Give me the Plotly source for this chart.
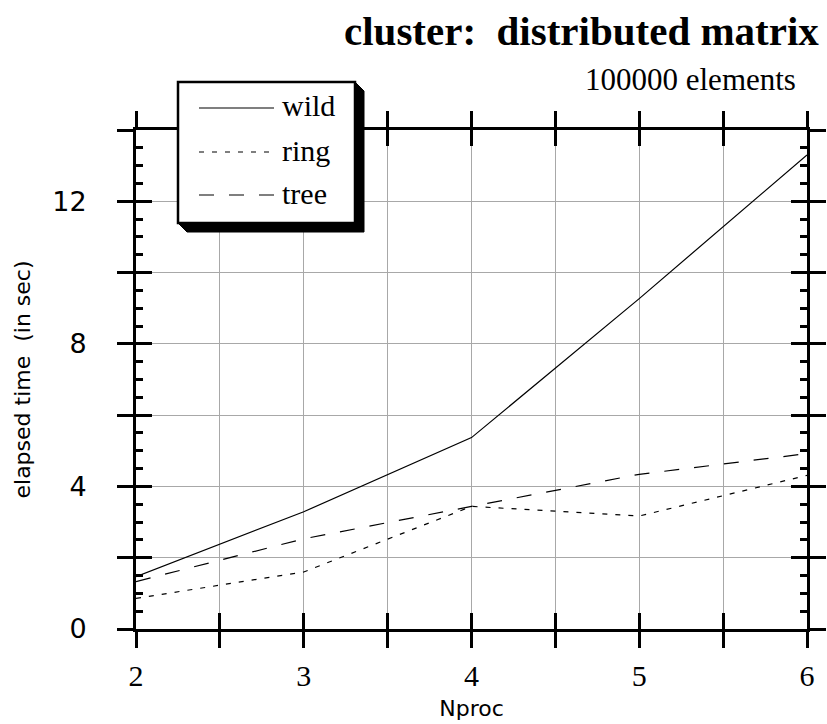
import plotly.graph_objects as go

# Elapsed time vs number of processes, three reduction strategies
nproc = [2, 3, 4, 5, 6]
wild = [1.47, 3.29, 5.37, 9.27, 13.3]
ring = [0.86, 1.60, 3.44, 3.17, 4.31]
tree = [1.33, 2.53, 3.44, 4.34, 4.92]

series_names = ["wild", "ring", "tree"]
series_values = [wild, ring, tree]
series_dash = ["solid", "5px,8px", "15px,15px"]

x_ticks = [2, 2.5, 3, 3.5, 4, 4.5, 5, 5.5, 6]
x_ticktext = ["2", "", "3", "", "4", "", "5", "", "6"]
y_major = [0, 2, 4, 6, 8, 10, 12, 14]
y_ticktext = ["0", "", "4", "", "8", "", "12", ""]
y_minor = [v / 2 for v in range(0, 29) if v % 4 != 0]

W, H = 827, 724
ML, MR, MT, MB = 136, 20, 130, 95
PW, PH = W - ML - MR, H - MT - MB


def px(xp):
    return (xp - ML) / PW


def py(yp):
    return (H - MB - yp) / PH


SERIF = "Liberation Serif"
SANS = "DejaVu Sans"

fig = go.Figure()
for name, vals, dash in zip(series_names, series_values, series_dash):
    fig.add_trace(go.Scatter(x=nproc, y=vals, name=name, mode="lines",
                             line=dict(color="black", width=1.2, dash=dash),
                             showlegend=False))
# carrier trace for the inward-pointing tick axes
fig.add_trace(go.Scatter(x=[None], y=[None], xaxis="x2", yaxis="y2",
                         showlegend=False, hoverinfo="skip"))

axis_common = dict(showline=True, linewidth=3, linecolor="black",
                   tickcolor="black", tickwidth=3, zeroline=False,
                   mirror="ticks", automargin=False)

fig.update_layout(
    width=W, height=H,
    font=dict(family=SERIF, color="black"),
    margin=dict(l=ML, r=MR, t=MT, b=MB, autoexpand=False),
    paper_bgcolor="white", plot_bgcolor="white",
    xaxis=dict(range=[2, 6], tickmode="array", tickvals=x_ticks,
               ticktext=x_ticktext, ticks="outside", ticklen=16,
               showgrid=True, gridcolor="#a8a8a8", gridwidth=1,
               tickfont=dict(family=SERIF, size=30, color="black"),
               ticklabelstandoff=2,
               title=dict(text="Nproc", standoff=10,
                          font=dict(family=SANS, size=22, color="black")),
               **axis_common),
    xaxis2=dict(range=[2, 6], overlaying="x", anchor="y", side="bottom",
                tickmode="array", tickvals=x_ticks, ticks="inside",
                ticklen=16, showgrid=False, showticklabels=False,
                **axis_common),
    yaxis=dict(range=[0, 14], tickmode="array", tickvals=y_major,
               ticktext=y_ticktext, ticks="outside", ticklen=16,
               showgrid=True, gridcolor="#a8a8a8", gridwidth=1,
               tickfont=dict(family=SANS, size=27, color="black"),
               ticklabelstandoff=25,
               minor=dict(tickmode="array", tickvals=y_minor, ticks="inside",
                          ticklen=7, tickwidth=3, tickcolor="black",
                          showgrid=False),
               title=dict(text="elapsed time  (in sec)", standoff=16,
                          font=dict(family=SANS, size=22, color="black")),
               **axis_common),
    yaxis2=dict(range=[0, 14], overlaying="y", anchor="x", side="left",
                tickmode="array", tickvals=y_major, ticks="inside",
                ticklen=16, showgrid=False, showticklabels=False,
                **axis_common),
)

# Title and subtitle
fig.add_annotation(text="<b>cluster:  distributed matrix</b>", xref="paper",
                   yref="paper", x=px(821), y=py(31), xanchor="right",
                   yanchor="middle", showarrow=False,
                   font=dict(family=SERIF, size=41, color="black"))
fig.add_annotation(text="100000 elements", xref="paper", yref="paper",
                   x=px(798), y=py(79), xanchor="right", yanchor="middle",
                   showarrow=False,
                   font=dict(family=SERIF, size=31, color="black"))

# Legend box with drop shadow
bx0, by0, bx1, by1, sh = 178, 82, 355, 223, 9
shadow = "M {},{} L {},{} L {},{} L {},{} L {},{} Z".format(
    px(bx1), py(by0), px(bx1 + sh), py(by0 + sh), px(bx1 + sh), py(by1 + sh),
    px(bx0 + sh), py(by1 + sh), px(bx0), py(by1))
fig.add_shape(type="path", path=shadow, xref="paper", yref="paper",
              fillcolor="black", line=dict(color="black", width=1),
              layer="above")
fig.add_shape(type="rect", xref="paper", yref="paper",
              x0=px(bx0), x1=px(bx1), y0=py(by0), y1=py(by1),
              fillcolor="white", line=dict(color="black", width=2.5),
              layer="above")
row_y = [108, 152, 195]
for name, dash, ry in zip(series_names, series_dash, row_y):
    fig.add_shape(type="line", xref="paper", yref="paper",
                  x0=px(199), x1=px(274), y0=py(ry), y1=py(ry),
                  line=dict(color="black", width=1.2, dash=dash),
                  layer="above")
    fig.add_annotation(text=name, xref="paper", yref="paper", x=px(280),
                       y=py(ry - 2), xanchor="left", yanchor="middle",
                       showarrow=False,
                       font=dict(family=SERIF, size=30, color="black"))

fig.write_html("out.html")
